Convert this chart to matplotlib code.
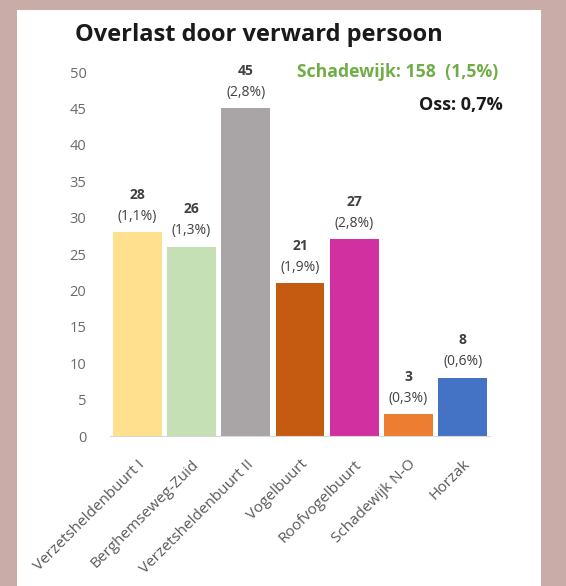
import matplotlib.pyplot as plt

# Data
buurten = ['Verzetsheldenbuurt I', 'Berghemseweg-Zuid', 'Verzetsheldenbuurt II',
           'Vogelbuurt', 'Roofvogelbuurt', 'Schadewijk N-O', 'Horzak']
aantallen = [28, 26, 45, 21, 27, 3, 8]
percentages = ['(1,1%)', '(1,3%)', '(2,8%)', '(1,9%)', '(2,8%)', '(0,3%)', '(0,6%)']
kleuren = ['#FFE08F', '#C5E0B4', '#A9A4A6', '#C55A11', '#D030A0', '#ED7D31', '#4472C4']

plt.rcParams['font.family'] = ['Open Sans', 'DejaVu Sans']

fig = plt.figure(figsize=(5.66, 5.86), dpi=100)
fig.patch.set_facecolor('#C9ABA7')
# white panel
fig.patches.append(plt.Rectangle((17 / 566, 0), (541 - 17) / 566, 1 - 10 / 586,
                                 transform=fig.transFigure, facecolor='white',
                                 edgecolor='none', zorder=-5))

ax = fig.add_axes([110 / 566, 150 / 586, 380 / 566, 364 / 586])
ax.set_facecolor('none')

x = range(len(buurten))
ax.bar(x, aantallen, width=0.9, color=kleuren)

for i, (n, p) in enumerate(zip(aantallen, percentages)):
    ax.annotate(p, (i, n), xytext=(0, 6), textcoords='offset points',
                ha='center', va='bottom', fontsize=10, color='#404040')
    ax.annotate(str(n), (i, n), xytext=(0, 22), textcoords='offset points',
                ha='center', va='bottom', fontsize=10, color='#404040',
                fontweight='bold')

ax.set_xlim(-0.5, 6.5)
ax.set_ylim(0, 50)
ax.set_yticks(range(0, 51, 5))
ax.set_xticks(list(x))
ax.set_xticklabels(buurten, rotation=45, ha='right', rotation_mode='anchor',
                   fontsize=11, color='#595959')
ax.tick_params(axis='y', labelsize=10.5, labelcolor='#6A6A6A', length=0, pad=17)
ax.tick_params(axis='x', length=0, pad=15)
for s in ['top', 'right', 'left']:
    ax.spines[s].set_visible(False)
ax.spines['bottom'].set_color('#D9D9D9')

fig.text(75 / 566, 1 - 35 / 586, 'Overlast door verward persoon',
         fontsize=17, fontweight='bold', color='#1A1A1A', va='center', ha='left')
fig.text(498 / 566, 1 - 72 / 586, 'Schadewijk: 158  (1,5%)',
         fontsize=12.7, fontweight='bold', color='#70AD47', va='center', ha='right')
fig.text(503 / 566, 1 - 105 / 586, 'Oss: 0,7%',
         fontsize=13, fontweight='bold', color='#1A1A1A', va='center', ha='right')

fig.savefig('out.png', dpi=100, facecolor=fig.get_facecolor())
